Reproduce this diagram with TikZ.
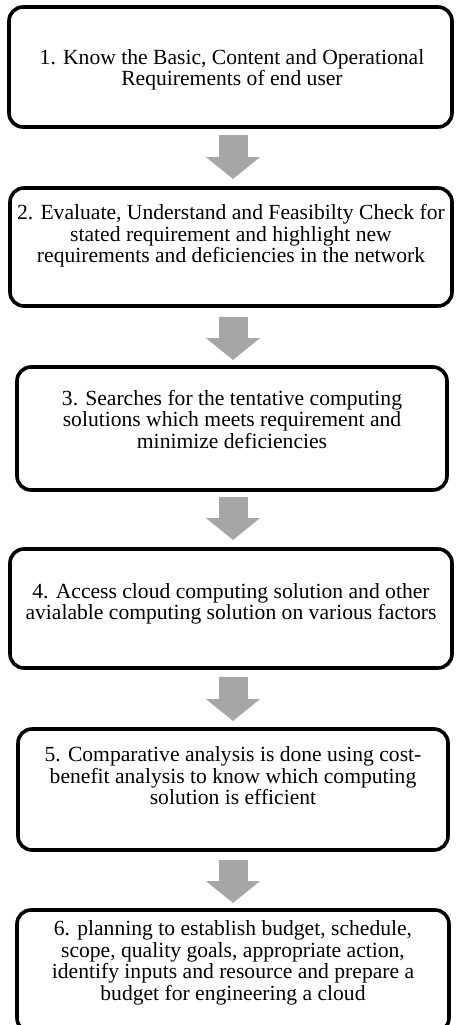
\documentclass[tikz,border=0pt]{standalone}
\usepackage{fontspec}
\setmainfont{Liberation Serif}
\usetikzlibrary{arrows.meta}

\definecolor{flowgray}{RGB}{166,166,166}

\tikzset{
  stepbox/.style={draw=black, line width=3.6pt, rounded corners=14pt, fill=white},
  steptext/.style={align=center, inner sep=0pt, font=\fontsize{21.6}{21.5}\selectfont},
  flow/.style={draw=flowgray, line width=29pt,
    -{Triangle[width=53pt,length=22pt]}, fill=flowgray}
}

\begin{document}
\begin{tikzpicture}[x=1pt,y=-1pt]
\useasboundingbox (0,0) rectangle (455,1025);

% process boxes
\node[stepbox, minimum width=443pt, minimum height=120pt] (b1) at (230.5,67) {};
\node[stepbox, minimum width=442pt, minimum height=118pt] (b2) at (231,247) {};
\node[stepbox, minimum width=430pt, minimum height=123pt] (b3) at (232,428.5) {};
\node[stepbox, minimum width=442pt, minimum height=119pt] (b4) at (231,608.5) {};
\node[stepbox, minimum width=430pt, minimum height=121pt] (b5) at (233,789.5) {};
\node[stepbox, minimum width=432pt, minimum height=122pt] (b6) at (233,971) {};

% step descriptions
\node[steptext] (t1) at (232,70) {1. Know the Basic, Content and Operational\\Requirements of end user};
\node[steptext] (t2) at (231,236) {2. Evaluate, Understand and Feasibilty Check for\\stated requirement and highlight new\\requirements and deficiencies in the network};
\node[steptext] (t3) at (232,419) {3. Searches for the tentative computing\\solutions which meets requirement and\\minimize deficiencies};
\node[steptext] (t4) at (231,604) {4. Access cloud computing solution and other\\avialable computing solution on various factors};
\node[steptext] (t5) at (233,776) {5. Comparative analysis is done using cost-\\benefit analysis to know which computing\\solution is efficient};
\node[steptext] (t6) at (233,963) {6. planning to establish budget, schedule,\\scope, quality goals, appropriate action,\\identify inputs and resource and prepare a\\budget for engineering a cloud};

% block arrows between the steps
\coordinate (s1) at (233,135); \coordinate (e1) at (233,179);
\coordinate (s2) at (233,317); \coordinate (e2) at (233,360);
\coordinate (s3) at (233,497); \coordinate (e3) at (233,540);
\coordinate (s4) at (233,677); \coordinate (e4) at (233,721);
\coordinate (s5) at (233,860); \coordinate (e5) at (233,903);
\foreach \i in {1,...,5} {
  \draw[flow] (s\i) -- (e\i);
}
\end{tikzpicture}
\end{document}
